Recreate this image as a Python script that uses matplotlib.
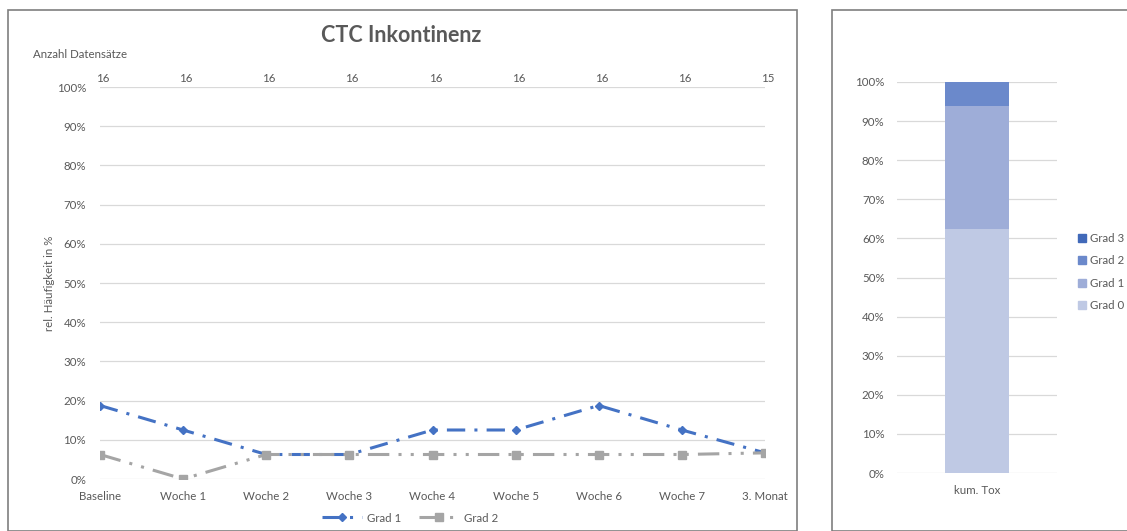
import matplotlib
matplotlib.use("Agg")
import matplotlib.pyplot as plt
from matplotlib.patches import Rectangle
from matplotlib.lines import Line2D
from matplotlib.patches import Patch

plt.rcParams['font.family'] = ['Lato', 'DejaVu Sans']

categories = ["Baseline", "Woche 1", "Woche 2", "Woche 3", "Woche 4", "Woche 5", "Woche 6", "Woche 7", "3. Monat"]
counts = [16, 16, 16, 16, 16, 16, 16, 16, 15]
grad1 = [18.75, 12.5, 6.25, 6.25, 12.5, 12.5, 18.75, 12.5, 6.67]
grad2 = [6.25, 0.0, 6.25, 6.25, 6.25, 6.25, 6.25, 6.25, 6.67]

bar_category = ["kum. Tox"]
bar_labels = ["Grad 0", "Grad 1", "Grad 2", "Grad 3"]
bar_values = [62.5, 31.25, 6.25, 0.0]
bar_colors = ["#BFC9E4", "#9EADD8", "#6B89CB", "#4169B9"]

TXT = "#595959"
GRID = "#D9D9D9"
FS = 8.3
W, H = 1127, 531
fig = plt.figure(figsize=(W / 100, H / 100), dpi=100)

def fx(px):
    return px / W

def fy(py):
    return (H - py) / H

# chart borders
fig.patches.append(Rectangle((fx(8), fy(531)), fx(797) - fx(8), fy(10) - fy(531),
                             transform=fig.transFigure, fill=False, edgecolor="#7F7F7F", lw=1.2))
fig.patches.append(Rectangle((fx(832), fy(531)), fx(1130) - fx(832), fy(10) - fy(531),
                             transform=fig.transFigure, fill=False, edgecolor="#7F7F7F", lw=1.2))

# ---- line chart ----
ax = fig.add_axes([fx(100), fy(479), fx(765) - fx(100), fy(87) - fy(479)])
x = list(range(len(categories)))
ax.plot(x, grad1, color="#4472C4", lw=2.2, dashes=(6, 3, 1, 3), marker="D", ms=4.5,
        label="Grad 1")
ax.plot(x, grad2, color="#A5A5A5", lw=2.2, dashes=(7, 3, 1, 3, 1, 3), marker="s", ms=6,
        label="Grad 2")
ax.set_xlim(0, len(categories) - 1)
ax.set_ylim(0, 100)
ax.set_yticks(range(0, 101, 10))
ax.set_yticklabels([f"{v}%" for v in range(0, 101, 10)])
ax.set_xticks(x)
ax.set_xticklabels(categories)
ax.tick_params(length=0, labelsize=FS, colors=TXT, pad=9)
ax.tick_params(axis="y", pad=10)
ax.grid(axis="y", color=GRID, lw=0.9)
ax.set_axisbelow(True)
for s in ax.spines.values():
    s.set_visible(False)
ax.set_ylabel("rel. Häufigkeit in %", fontsize=FS, color=TXT, labelpad=1)
for xi, c in zip(x, counts):
    ax.annotate(str(c), (xi, 100), xytext=(2, 2), textcoords="offset points",
                ha="center", va="bottom", fontsize=FS, color=TXT)
fig.text(fx(33), fy(54), "Anzahl Datensätze", fontsize=FS, color=TXT, ha="left", va="center")
fig.text(fx(401), fy(36), "CTC Inkontinenz", fontsize=15.5, color=TXT, ha="center", va="center",
         fontweight="bold")
fig.legend(handles=[
    Line2D([], [], color="#4472C4", lw=2.2, dashes=(6, 3, 1, 3), marker="D", ms=4.5),
    Line2D([], [], color="#A5A5A5", lw=2.2, dashes=(7, 3, 1, 3, 1, 3), marker="s", ms=6)],
    labels=["Grad 1", "Grad 2"], loc="center", bbox_to_anchor=(fx(410), fy(518)), ncol=2,
    frameon=False, fontsize=FS, labelcolor=TXT, handlelength=3.5, columnspacing=1.5,
    handletextpad=0.4)

# ---- stacked bar ----
bx = fig.add_axes([fx(897), fy(473), fx(1057) - fx(897), fy(82) - fy(473)])
bottom = 0
for lab, val, col in zip(bar_labels, bar_values, bar_colors):
    bx.bar(bar_category, [val], bottom=[bottom], width=0.4, color=col, label=lab)
    bottom += val
bx.set_xlim(-0.5, 0.5)
bx.set_ylim(0, 100)
bx.set_yticks(range(0, 101, 10))
bx.set_yticklabels([f"{v}%" for v in range(0, 101, 10)])
bx.tick_params(length=0, labelsize=FS, colors=TXT, pad=9)
bx.tick_params(axis="y", pad=9)
bx.grid(axis="y", color=GRID, lw=0.9)
bx.set_axisbelow(True)
for s in bx.spines.values():
    s.set_visible(False)
handles = [Patch(color=c) for c in bar_colors][::-1]
fig.legend(handles=handles, labels=bar_labels[::-1], loc="center left",
           bbox_to_anchor=(fx(1073), fy(272)), frameon=False, fontsize=FS, labelcolor=TXT,
           handlelength=0.7, handleheight=0.7, handletextpad=0.35, labelspacing=1.0,
           borderpad=0.2, borderaxespad=0.2)

fig.savefig("out.png", dpi=100)
